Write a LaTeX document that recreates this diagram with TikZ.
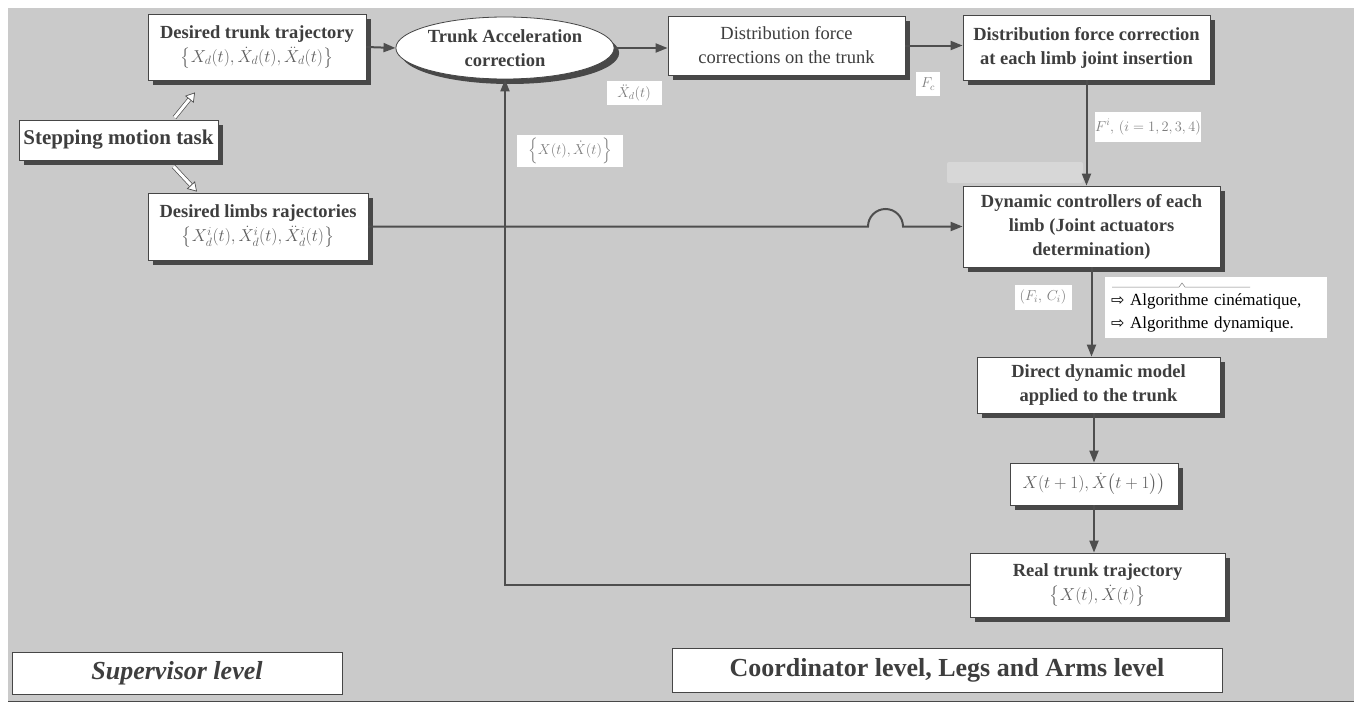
\documentclass[tikz,border=0pt]{standalone}
\usepackage{fontspec}
\setmainfont{Liberation Serif}
\newfontfamily\symfont{DejaVu Sans}
\usepackage{amsmath}
\usetikzlibrary{shapes.geometric,shadows,arrows.meta}
\definecolor{bggray}{RGB}{202,202,202}
\definecolor{ghostgray}{RGB}{215,215,215}
\definecolor{boxgray}{RGB}{70,70,70}
\definecolor{shadowgray}{RGB}{72,72,72}
\definecolor{textgray}{RGB}{62,62,62}
\definecolor{mathgray}{RGB}{95,95,95}
\definecolor{taggray}{RGB}{125,125,125}
\definecolor{arrowgray}{RGB}{78,78,78}

\begin{document}
\begin{tikzpicture}
[every node/.style={inner sep=0pt},
 block/.style={rectangle, draw=boxgray, line width=0.8pt, fill=white, text=textgray, align=center,
   font=\fontsize{18.5pt}{24pt}\selectfont\bfseries,
   drop shadow={shadow xshift=5pt, shadow yshift=-5pt, fill=shadowgray, opacity=1}},
 level/.style={rectangle, draw=boxgray, line width=0.6pt, fill=white, text=textgray,
   font=\fontsize{26pt}{30pt}\selectfont\bfseries},
 tag/.style={rectangle, fill=white, text=taggray, font=\fontsize{14pt}{16pt}\selectfont},
 flow/.style={line width=2pt, draw=arrowgray, -{Triangle[length=12pt, width=9pt]}},
 hollow/.style={draw=arrowgray, line width=0.7pt, double=white, double distance=3pt,
   -{Triangle[length=9pt, width=11pt, fill=white]}}]
\useasboundingbox (0pt, 0pt) rectangle (1354pt, -704pt);
\fill [bggray] (8pt, -8pt) rectangle (1354pt, -701pt);
\draw [shadowgray, line width=1pt] (8pt, -701pt) -- (1354pt, -701pt);
\fill [ghostgray, rounded corners=2pt] (947pt, -162pt) rectangle (1083pt, -183pt);
% supervisor side
\node (trunk) [block, minimum width=218pt, minimum height=66pt] at (257pt, -47pt)
  {Desired trunk trajectory\\ \textcolor{mathgray}{$\left\{X_d(t),\dot{X}_d(t),\ddot{X}_d(t)\right\}$}};
\node (step) [block, minimum width=199pt, minimum height=40pt, font=\fontsize{21pt}{24pt}\selectfont\bfseries] at (118.5pt, -140pt)
  {Stepping motion task};
\node (limbs) [block, minimum width=220pt, minimum height=67pt] at (258pt, -226.5pt)
  {Desired limbs rajectories\\ \textcolor{mathgray}{$\left\{X^{i}_d(t),\dot{X}^{i}_d(t),\ddot{X}^{i}_d(t)\right\}$}};
% coordinator side
\node (accel) [block, ellipse, minimum width=214pt, minimum height=62pt] at (505pt, -48pt)
  {Trunk Acceleration\\correction};
\node (distrib) [block, minimum width=237pt, minimum height=59pt, font=\fontsize{18.5pt}{24pt}\selectfont] at (786.5pt, -45.5pt)
  {Distribution force\\corrections on the trunk};
\node (insert) [block, minimum width=247pt, minimum height=65pt] at (1086.5pt, -47.5pt)
  {Distribution force correction\\at each limb joint insertion};
\node (dynctl) [block, minimum width=257pt, minimum height=81pt] at (1091.5pt, -226.5pt)
  {Dynamic controllers of each\\limb (Joint actuators\\determination)};
\node (direct) [block, minimum width=243pt, minimum height=56pt] at (1098.5pt, -385pt)
  {Direct dynamic model\\applied to the trunk};
\node (next) [block, minimum width=168pt, minimum height=42pt, font=\fontsize{18pt}{24pt}\selectfont] at (1094pt, -484pt)
  {\textcolor{mathgray}{$X(t+1),\dot{X}\bigl(t+1\bigr)\bigr)$}};
\node (real) [block, minimum width=255pt, minimum height=64pt] at (1097.5pt, -585pt)
  {Real trunk trajectory\\ \textcolor{mathgray}{$\left\{X(t),\dot{X}(t)\right\}$}};
\node (algo) [rectangle, fill=white, minimum width=222pt, minimum height=61pt, text width=210pt, align=left, text=black,
  font=\fontsize{17pt}{23pt}\selectfont] at (1216pt, -307.5pt)
  {\vphantom{X}\\[-12pt]{\symfont\fontsize{16pt}{23pt}\selectfont ⇨} Algorithme cinématique,\\{\symfont\fontsize{16pt}{23pt}\selectfont ⇨} Algorithme dynamique.};
\draw [line width=0.5pt, color=taggray] (1112pt, -287pt) -- (1179pt, -287pt) -- (1182pt, -283pt) -- (1185pt, -287pt) -- (1250pt, -287pt);
% levels
\node (superv) [level, minimum width=330pt, minimum height=42pt, font=\fontsize{26pt}{30pt}\selectfont\bfseries\itshape] at (177pt, -673pt)
  {Supervisor level};
\node (coord) [level, minimum width=550pt, minimum height=44pt] at (947pt, -670pt)
  {Coordinator level, Legs and Arms level};
% labels on the connectors
\node (lblacc) [tag, minimum width=55pt, minimum height=24pt] at (634pt, -93pt) {$\ddot{X}_d(t)$};
\node (lblfb) [tag, minimum width=106pt, minimum height=32pt] at (570pt, -151pt) {$\left\{X(t),\dot{X}(t)\right\}$};
\node (lblfc) [tag, minimum width=24pt, minimum height=24pt] at (928pt, -84pt) {$F_c$};
\node (lblfi) [tag, minimum width=103pt, minimum height=30pt] at (1148pt, -127pt) {$F^{i},\,(i=1,2,3,4)$};
\node (lblfc2) [tag, minimum width=57pt, minimum height=25pt] at (1043pt, -297pt) {$(F_i,\,C_i)$};
% connectors
\coordinate (hopin) at (868pt, -226.5pt);
\coordinate (hopout) at (903pt, -226.5pt);
\draw [hollow] ([xshift=56pt, yshift=2pt]step.north) to ([xshift=-62pt, yshift=-12pt]trunk.south);
\draw [hollow] ([xshift=55pt, yshift=-6pt]step.south) to ([xshift=-61pt, yshift=1pt]limbs.north);
\draw [flow] (trunk.east) to (accel.west);
\draw [flow] (accel.east) to (accel.east -| distrib.west);
\draw [flow] (distrib.east) to (distrib.east -| insert.west);
\draw [flow] (insert.south) to (insert.south |- dynctl.north);
\draw [flow] (dynctl.south) to (dynctl.south |- direct.north);
\draw [flow] (direct.south -| next.north) to (next.north);
\draw [flow] (next.south) to (next.south |- real.north);
\draw [flow] (real.west) -| (accel.south);
\draw [flow] (limbs.east) -- (hopin) arc [start angle=180, end angle=0, radius=17.5pt] -- (hopout) -- (dynctl.west);
\end{tikzpicture}
\end{document}
